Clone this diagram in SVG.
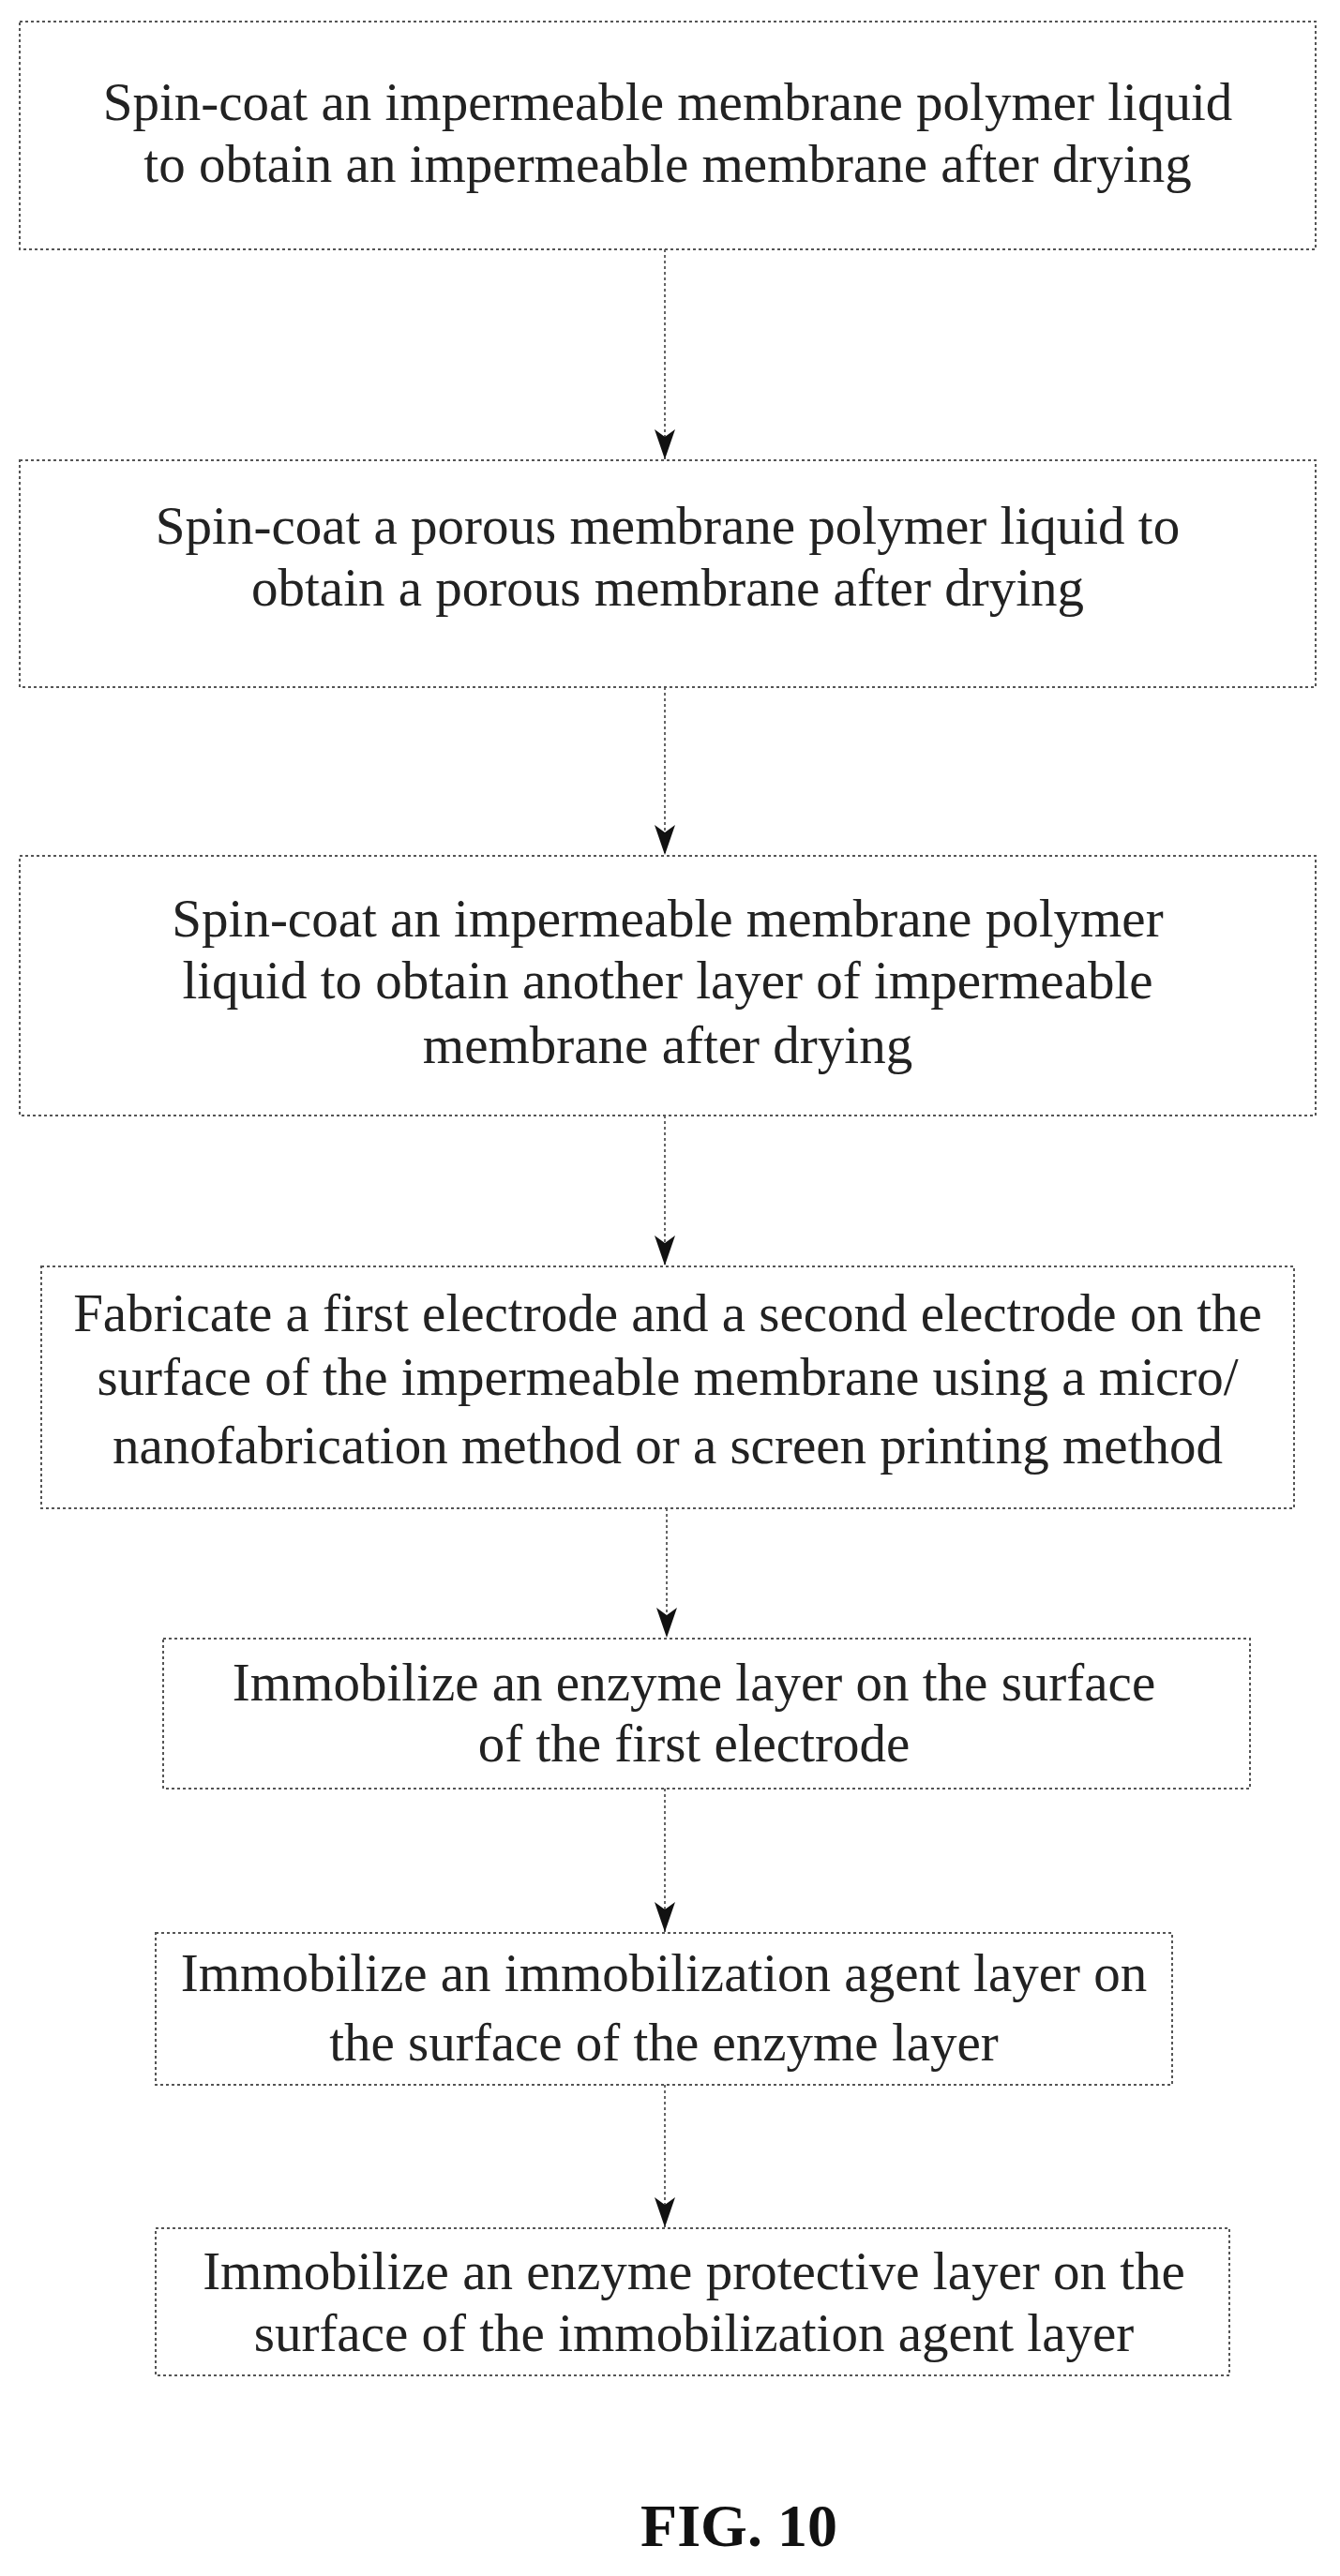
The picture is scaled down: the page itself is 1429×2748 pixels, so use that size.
<svg xmlns="http://www.w3.org/2000/svg" width="1429" height="2748" viewBox="0 0 1429 2748">
<style>
.box{fill:#fff;stroke:#555;stroke-width:2;stroke-dasharray:3 3}
.t{font-family:"Liberation Serif",serif;font-size:57px;fill:#222;text-anchor:middle}
.c{stroke:#666;stroke-width:2;stroke-dasharray:3 3;fill:none}
.fig{font-family:"Liberation Serif",serif;font-size:64px;font-weight:bold;text-anchor:middle;fill:#111}
</style>
<defs>
<marker id="a" markerWidth="32" markerHeight="22" refX="32" refY="11" orient="auto" markerUnits="userSpaceOnUse" viewBox="0 0 32 22"><path d="M0,0 L32,11 L0,22 L8,11 Z" fill="#111"/></marker></defs>
<g id="connectors">
<path class="c" d="M709,266 V490" marker-end="url(#a)"/>
<path class="c" d="M709,733 V912" marker-end="url(#a)"/>
<path class="c" d="M709,1190 V1350" marker-end="url(#a)"/>
<path class="c" d="M711,1609 V1747" marker-end="url(#a)"/>
<path class="c" d="M709,1908 V2061" marker-end="url(#a)"/>
<path class="c" d="M709,2224 V2376" marker-end="url(#a)"/>
</g>
<g id="n1"><rect class="box" x="21" y="23" width="1382" height="243"/>
<text class="t" x="712" y="128">Spin-coat an impermeable membrane polymer liquid</text>
<text class="t" x="712" y="194">to obtain an impermeable membrane after drying</text></g>
<g id="n2"><rect class="box" x="21" y="491" width="1382" height="242"/>
<text class="t" x="712" y="580">Spin-coat a porous membrane polymer liquid to</text>
<text class="t" x="712" y="646">obtain a porous membrane after drying</text></g>
<g id="n3"><rect class="box" x="21" y="913" width="1382" height="277"/>
<text class="t" x="712" y="999">Spin-coat an impermeable membrane polymer</text>
<text class="t" x="712" y="1065">liquid to obtain another layer of impermeable</text>
<text class="t" x="712" y="1134">membrane after drying</text></g>
<g id="n4"><rect class="box" x="44" y="1351" width="1336" height="258"/>
<text class="t" x="712" y="1420">Fabricate a first electrode and a second electrode on the</text>
<text class="t" x="712" y="1488">surface of the impermeable membrane using a micro/</text>
<text class="t" x="712" y="1561">nanofabrication method or a screen printing method</text></g>
<g id="n5"><rect class="box" x="174" y="1748" width="1159" height="160"/>
<text class="t" x="740" y="1814">Immobilize an enzyme layer on the surface</text>
<text class="t" x="740" y="1879">of the first electrode</text></g>
<g id="n6"><rect class="box" x="166" y="2062" width="1084" height="162"/>
<text class="t" x="708" y="2124">Immobilize an immobilization agent layer on</text>
<text class="t" x="708" y="2198">the surface of the enzyme layer</text></g>
<g id="n7"><rect class="box" x="166" y="2377" width="1145" height="157"/>
<text class="t" x="740" y="2442">Immobilize an enzyme protective layer on the</text>
<text class="t" x="740" y="2508">surface of the immobilization agent layer</text></g>
<text class="fig" x="788" y="2716">FIG. 10</text>
</svg>
